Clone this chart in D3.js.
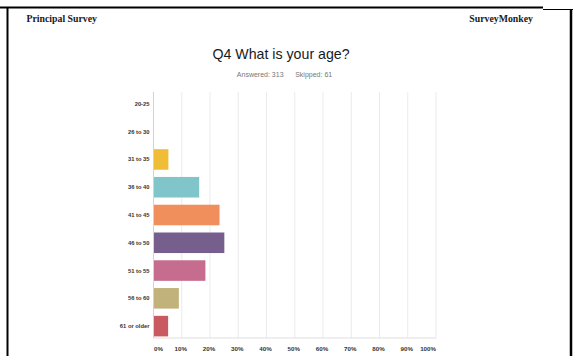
<!DOCTYPE html>
<html>
<head>
	<title>Q4 What is your age?</title>
	<meta charset="utf-8">
	<script src="https://cdnjs.cloudflare.com/ajax/libs/d3/7.8.5/d3.min.js"></script>
	<style type="text/css">
		body { margin: 0; background: #fff; }
		.cat { font-family: "Liberation Sans", Arial, sans-serif; font-size: 5.8px; font-weight: bold; fill: #333; }
		.tick-label { font-family: "Liberation Sans", Arial, sans-serif; font-size: 6.2px; font-weight: bold; fill: #333; }
	</style>
</head>
<body>
	<script type="text/javascript">

		// answer choices and the share of responses (%)
		let ages = ['20-25', '26 to 30', '31 to 35', '36 to 40', '41 to 45', '46 to 50', '51 to 55', '56 to 60', '61 or older'];
		let shares = [0, 0, 5.1, 16.0, 23.2, 24.9, 18.2, 8.8, 5.0];
		let colors = ['#5cc2a6', '#60a8d6', '#f0be36', '#80c5c9', '#f08f5b', '#765f8c', '#c66c8e', '#c1b27b', '#c95a61'];
		let ticks = [0, 10, 20, 30, 40, 50, 60, 70, 80, 90, 100];

		let W = 573, H = 356;
		let svg = d3.select('body').append('svg')
			.attr('width', W)
			.attr('height', H);

		// page frame
		svg.append('line').attr('x1', 0).attr('x2', 543).attr('y1', 7.5).attr('y2', 7.5)
			.attr('stroke', '#000').attr('stroke-width', 2);
		svg.append('line').attr('x1', 543).attr('x2', 573).attr('y1', 9.5).attr('y2', 9.5)
			.attr('stroke', '#000').attr('stroke-width', 1);
		svg.append('line').attr('x1', 7.5).attr('x2', 7.5).attr('y1', 7).attr('y2', H)
			.attr('stroke', '#000').attr('stroke-width', 2);
		svg.append('line').attr('x1', 571).attr('x2', 571).attr('y1', 9).attr('y2', H)
			.attr('stroke', '#000').attr('stroke-width', 2.5);

		svg.append('text').attr('x', 26.5).attr('y', 22)
			.style('font-family', '"Liberation Serif", "Times New Roman", serif')
			.style('font-size', '9.8px').style('font-weight', 'bold').style('fill', '#1a1a1a')
			.text('Principal Survey');
		svg.append('text').attr('x', 533).attr('y', 22).attr('text-anchor', 'end')
			.style('font-family', '"Liberation Serif", "Times New Roman", serif')
			.style('font-size', '9.8px').style('font-weight', 'bold').style('fill', '#1a1a1a')
			.text('SurveyMonkey');

		svg.append('text').attr('x', 281).attr('y', 58.5).attr('text-anchor', 'middle')
			.style('font-family', '"Liberation Sans", Arial, sans-serif')
			.style('font-size', '14.2px').style('fill', '#1a1a1a')
			.text('Q4 What is your age?');
		svg.append('text').attr('x', 284.5).attr('y', 76.5).attr('text-anchor', 'middle')
			.style('font-family', '"Liberation Sans", Arial, sans-serif')
			.style('font-size', '7px').style('fill', '#777')
			.attr('xml:space', 'preserve')
			.text('Answered: 313      Skipped: 61');

		let xScale = d3.scaleLinear().domain([0, 100]).range([153.5, 436]);
		let yScale = d3.scaleBand().domain(ages).range([90, 340]).paddingInner(0.26).paddingOuter(0.13);

		// gridlines
		svg.selectAll('line.grid').data(ticks.slice(1)).enter().append('line')
			.attr('class', 'grid')
			.attr('x1', d => xScale(d)).attr('x2', d => xScale(d))
			.attr('y1', 92).attr('y2', 338)
			.attr('stroke', '#e6e6e6').attr('stroke-width', 0.8);

		// axes lines
		svg.append('line').attr('x1', xScale(0)).attr('x2', xScale(100)).attr('y1', 338).attr('y2', 338)
			.attr('stroke', '#d6d6d6').attr('stroke-width', 0.8);
		svg.append('line').attr('x1', xScale(0)).attr('x2', xScale(0)).attr('y1', 92).attr('y2', 338)
			.attr('stroke', '#c8c8c8').attr('stroke-width', 0.8);

		// bars
		svg.selectAll('rect.bar').data(ages).enter().append('rect')
			.attr('class', 'bar')
			.attr('x', xScale(0) + 0.5)
			.attr('y', d => yScale(d))
			.attr('width', (d, i) => Math.max(0, xScale(shares[i]) - xScale(0)))
			.attr('height', yScale.bandwidth())
			.attr('fill', (d, i) => colors[i]);

		// category labels
		svg.selectAll('text.cat').data(ages).enter().append('text')
			.attr('class', 'cat')
			.attr('x', 149.5)
			.attr('y', d => yScale(d) + yScale.bandwidth() / 2 + 2)
			.attr('text-anchor', 'end')
			.text(d => d);

		// tick labels
		svg.selectAll('text.tick-label').data(ticks).enter().append('text')
			.attr('class', 'tick-label')
			.attr('x', d => d === 0 ? xScale(0) + 0.5 : d === 100 ? xScale(100) : xScale(d) - 1)
			.attr('y', 350.5)
			.attr('text-anchor', d => d === 0 ? 'start' : d === 100 ? 'end' : 'middle')
			.text(d => d + '%');
	</script>
</body>
</html>
